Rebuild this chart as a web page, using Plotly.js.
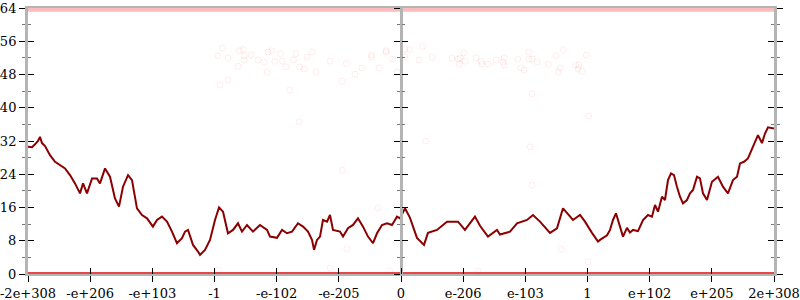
<!DOCTYPE html>
<html>
<head>
<meta charset="utf-8">
<script src="https://cdn.plot.ly/plotly-3.0.1.min.js"></script>
<style>html,body{margin:0;padding:0;background:#fff;}#chart{width:800px;height:300px;}</style>
</head>
<body>
<div id="chart"></div>
<script>
// x positions are in tick-index units (-6 .. 6), one unit per labelled tick
const tickPos = [-6, -5, -4, -3, -2, -1, 0, 1, 2, 3, 4, 5, 6];
const tickLabels = ["-2e+308", "-e+206", "-e+103", "-1", "-e-102", "-e-205", "0",
                    "e-206", "e-103", "1", "e+102", "e+205", "2e+308"];
const yTicks = [0, 8, 16, 24, 32, 40, 48, 56, 64];

// main (dark red) series
const lineX = [-6.00,-5.935,-5.887,-5.839,-5.807,-5.775,-5.726,-5.694,-5.646,-5.565,-5.485,-5.404,-5.324,-5.244,-5.163,-5.115,-5.051,
  -4.970,-4.890,-4.842,-4.761,-4.681,-4.601,-4.536,-4.472,-4.391,-4.327,-4.247,-4.166,-4.086,-3.990,-3.925,-3.845,-3.764,-3.684,
  -3.604,-3.523,-3.474,-3.426,-3.346,-3.265,-3.233,-3.153,-3.072,-2.992,-2.927,-2.863,-2.783,-2.702,-2.622,-2.558,-2.477,-2.381,
  -2.269,-2.155,-2.107,-1.995,-1.914,-1.834,-1.753,-1.657,-1.576,-1.496,-1.432,-1.399,-1.351,-1.303,-1.255,-1.190,-1.142,-1.094,
  -0.981,-0.933,-0.853,-0.772,-0.692,-0.611,-0.531,-0.450,-0.386,-0.306,-0.225,-0.145,-0.064,-0.016,0.064,0.145,0.257,0.370,
  0.434,0.579,0.740,0.917,1.029,1.190,1.271,1.399,1.544,1.592,1.753,1.866,2.027,2.123,2.236,2.397,2.509,2.606,2.686,2.767,
  2.879,2.960,3.072,3.169,3.201,3.314,3.362,3.410,3.458,3.490,3.571,3.635,3.683,3.732,3.812,3.893,3.973,4.037,4.086,4.134,
  4.198,4.246,4.295,4.343,4.391,4.439,4.488,4.536,4.600,4.649,4.697,4.761,4.809,4.858,4.922,5.002,5.099,5.179,5.260,5.340,
  5.405,5.453,5.517,5.581,5.646,5.694,5.742,5.807,5.855,5.903,6.000];
const lineY = [30.6,30.5,31.2,32.0,33.0,31.5,30.8,29.8,28.6,27.0,26.2,25.4,23.8,21.8,19.4,21.8,19.4,
  23.0,23.0,21.8,25.4,23.4,18.2,16.2,21.0,23.8,22.6,15.8,14.2,13.4,11.4,13.0,13.8,12.6,10.2,
  7.4,8.6,10.2,10.6,7.0,5.4,4.6,5.8,8.2,13.0,16.0,15.0,9.8,10.6,12.2,10.2,11.8,10.2,
  11.8,10.6,9.0,8.7,10.6,9.8,10.2,12.2,11.4,10.2,8.2,5.8,8.2,9.0,13.0,12.6,14.2,10.6,
  10.2,9.0,11.0,11.8,13.4,11.4,9.0,7.4,9.8,11.8,12.2,11.8,13.8,13.4,15.8,13.5,8.7,7.0,
  9.9,10.6,12.6,12.6,10.6,13.8,11.6,9.0,10.6,9.5,10.2,12.2,13.0,14.2,12.6,9.9,11.0,15.8,14.5,13.0,
  14.2,12.6,9.9,7.8,8.2,9.3,10.6,13.0,14.6,13.0,9.0,11.1,10.0,10.6,10.3,13.0,14.2,13.8,16.6,15.0,
  18.6,17.8,22.6,24.2,23.8,21.0,18.6,17.0,17.8,19.4,20.2,23.4,23.0,19.4,17.8,22.2,23.4,21.0,19.4,22.6,
  23.4,26.6,27.0,27.8,30.0,31.8,33.4,31.5,33.8,35.3,35.0];

// faint scattered points
const ptsX = [-2.95,-2.87,-2.78,-2.62,-2.60,-2.54,-2.52,-2.52,-2.41,-2.30,-2.20,-2.15,-2.14,-2.08,-2.03,-1.94,-1.91,-1.85,
  -1.73,-1.69,-1.63,-1.56,-1.51,-1.43,-1.37,-1.14,-0.88,-0.95,-0.74,-0.63,-0.48,-0.47,-0.35,-0.24,-0.24,-0.13,-0.06,
  -2.78,-2.91,-1.79,-1.64,0.06,0.14,0.06,0.35,0.29,0.50,0.82,0.92,0.94,0.95,1.01,1.03,1.21,1.29,1.30,1.40,1.53,
  1.64,1.66,1.66,1.88,1.93,1.98,2.06,2.06,2.11,2.19,2.37,2.49,2.53,2.56,2.61,2.81,2.86,2.85,2.91,2.98,
  2.11,3.02,0.40,2.08,-0.94,-0.37,-0.87,-1.14,-0.18,-2.94,2.11,2.58,3.01,1.24];
const ptsY = [52.5,54.4,52.0,50.0,53.7,54.0,52.5,51.5,52.7,51.5,51.0,48.6,53.4,53.7,51.2,53.0,51.2,49.8,
  51.5,53.0,49.8,49.3,52.2,53.4,48.6,51.2,50.7,46.4,48.1,49.6,52.7,52.2,49.6,53.4,53.7,51.7,48.6,
  46.7,45.5,44.3,36.6,54.0,54.0,52.2,54.8,51.5,52.2,52.0,51.7,50.5,52.0,53.2,51.2,52.0,51.2,50.5,50.5,51.5,
  51.0,52.0,50.3,51.7,49.6,49.1,53.4,51.7,51.7,51.0,50.5,52.5,48.6,49.6,54.0,50.3,50.3,49.3,48.8,52.7,
  43.3,38.0,32.0,30.6,25.0,15.9,6.0,1.4,0.7,1.0,21.4,6.0,2.9,0.7];

// dense bands of points at the top and bottom of the value range
const bandX = [-6, 6];
const topBandY = [63.6, 63.6];
const bottomBandY = [0, 0];

const tickFont = {family: "DejaVu Serif", size: 13, color: "#000"};
const gray = "#b4b4b4";

const traces = [
  {x: bandX, y: topBandY, mode: "lines", line: {color: "rgba(238,60,60,0.35)", width: 4},
   hoverinfo: "skip", showlegend: false, cliponaxis: false},
  {x: bandX, y: bottomBandY, mode: "lines", line: {color: "rgba(226,40,40,0.85)", width: 4},
   hoverinfo: "skip", showlegend: false, cliponaxis: false},
  {x: ptsX, y: ptsY, mode: "markers", type: "scatter",
   marker: {symbol: "circle-open", size: 6, color: "rgba(255,0,0,0.08)", line: {width: 1}},
   hoverinfo: "skip", showlegend: false, cliponaxis: false},
  {x: lineX, y: lineY, mode: "lines", type: "scatter",
   line: {color: "#8b0000", width: 2}, showlegend: false, cliponaxis: false},
  {x: [], y: [], xaxis: "x2", yaxis: "y2", showlegend: false},
  {x: [], y: [], xaxis: "x", yaxis: "y3", showlegend: false},
  {x: [], y: [], xaxis: "x", yaxis: "y4", showlegend: false}
];

const minorOut = {dtick: 4, ticks: "outside", ticklen: 3, tickcolor: "#777", tickwidth: 1};
const minorIn = {dtick: 4, ticks: "inside", ticklen: 3, tickcolor: "#777", tickwidth: 1};

const layout = {
  width: 800, height: 300,
  margin: {l: 28, r: 26, t: 8, b: 26, pad: 0},
  paper_bgcolor: "#fff", plot_bgcolor: "#fff",
  showlegend: false,
  xaxis: {range: [-6, 6], tickmode: "array", tickvals: tickPos, ticktext: tickLabels,
          ticks: "outside", ticklen: 6, tickcolor: "#000", tickwidth: 1, tickfont: tickFont,
          ticklabeloverflow: "allow",
          showline: true, linecolor: gray, linewidth: 2, mirror: true, layer: "below traces",
          showgrid: false, zeroline: false, fixedrange: true},
  xaxis2: {range: [-6, 6], overlaying: "x", anchor: "y", tickmode: "array", tickvals: tickPos,
           ticks: "inside", ticklen: 6, tickcolor: "#000", tickwidth: 1, showticklabels: false,
           showline: false, showgrid: false, zeroline: false},
  yaxis: {range: [0, 64], tickmode: "array", tickvals: yTicks, ticks: "outside", ticklen: 6,
          tickcolor: "#000", tickwidth: 1, tickfont: tickFont, mirror: "ticks",
          ticklabeloverflow: "allow",
          showline: true, linecolor: gray, linewidth: 3, showgrid: false, zeroline: false,
          minor: minorOut},
  yaxis2: {range: [0, 64], overlaying: "y", anchor: "x", tickmode: "array", tickvals: yTicks,
           ticks: "inside", ticklen: 6, tickcolor: "#000", tickwidth: 1, showticklabels: false,
           mirror: "ticks", showline: false, showgrid: false, zeroline: false, minor: minorIn},
  yaxis3: {range: [0, 64], overlaying: "y", anchor: "free", position: 0.5, tickmode: "array",
           tickvals: yTicks, ticks: "outside", ticklen: 6, tickcolor: "#000", tickwidth: 1,
           showticklabels: false, showline: true, linecolor: gray, linewidth: 3,
           showgrid: false, zeroline: false, minor: minorOut},
  yaxis4: {range: [0, 64], overlaying: "y", anchor: "free", position: 0.5, tickmode: "array",
           tickvals: yTicks, ticks: "inside", ticklen: 6, tickcolor: "#000", tickwidth: 1,
           showticklabels: false, showline: false, showgrid: false, zeroline: false, minor: minorIn}
};

Plotly.newPlot("chart", traces, layout, {staticPlot: true, displayModeBar: false});
</script>
</body>
</html>
